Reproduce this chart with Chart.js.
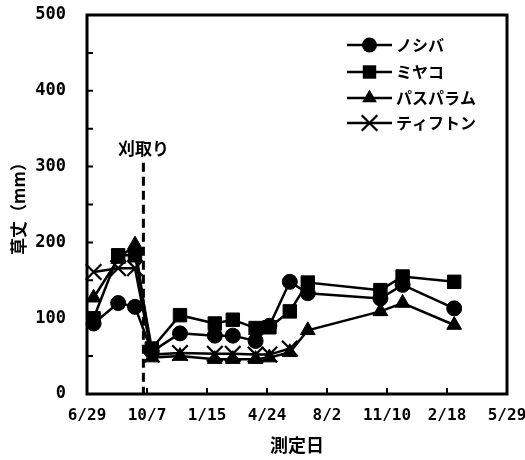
<!DOCTYPE html>
<html>
<head>
<meta charset="utf-8">
<script src="https://cdn.jsdelivr.net/npm/chart.js@4"></script>
<style>
  html, body { margin: 0; padding: 0; background: #fff; }
</style>
</head>
<body>
<canvas id="chart" width="525" height="460"></canvas>
<script>
// days counted from 6/29 of the first year
const measureDays = [11, 52, 80, 108, 155, 213, 243, 281, 304, 338, 368, 489, 526, 612];
const tickLabels = ['6/29', '10/7', '1/15', '4/24', '8/2', '11/10', '2/18', '5/29'];
const seriesNames = ['ノシバ', 'ミヤコ', 'パスパラム', 'ティフトン'];

const noshiba   = [93, 120, 115, 56, 80, 77, 77, 70, 90, 148, 133, 126, 144, 113];
const miyako    = [100, 183, 183, 60, 104, 93, 98, 87, 88, 109, 147, 137, 155, 148];
const paspalum  = [127, 178, 197, 48, 50, 46, 46, 46, 48, 55, 84, 109, 120, 91];
const tifton    = [161, 166, 166, 52, 54, 53, 53, 52, 52, 60];

const cutDay = 94;       // 刈取り
const cutLineTop = 305;
const cutLabel = '刈取り';

const jpFont = "'Noto Sans CJK JP', 'DejaVu Sans', sans-serif";
const numFont = "'DejaVu Sans Mono', 'Liberation Mono', monospace";

const toPoints = (vals) => vals.map((v, i) => ({ x: measureDays[i], y: v }));

const markers = [
  { style: 'circle', radius: 7.5, border: 1 },
  { style: 'rect', radius: 9.5, border: 1 },
  { style: 'triangle', radius: 8.5, border: 1 },
  { style: 'crossRot', radius: 11, border: 2.2 }
];

const allSeries = [noshiba, miyako, paspalum, tifton];

function drawMarker(ctx, m, x, y) {
  ctx.save();
  ctx.fillStyle = '#000';
  ctx.strokeStyle = '#000';
  ctx.lineWidth = m.border;
  ctx.beginPath();
  const r = m.radius;
  if (m.style === 'circle') {
    ctx.arc(x, y, r, 0, Math.PI * 2);
    ctx.fill();
  } else if (m.style === 'rect') {
    const s = r * Math.SQRT1_2;
    ctx.rect(x - s, y - s, 2 * s, 2 * s);
    ctx.fill();
  } else if (m.style === 'triangle') {
    ctx.moveTo(x, y - r);
    ctx.lineTo(x + r * Math.sin(Math.PI / 3), y + r / 2);
    ctx.lineTo(x - r * Math.sin(Math.PI / 3), y + r / 2);
    ctx.closePath();
    ctx.fill();
  } else {
    const d = r * Math.SQRT1_2;
    ctx.moveTo(x - d, y - d); ctx.lineTo(x + d, y + d);
    ctx.moveTo(x + d, y - d); ctx.lineTo(x - d, y + d);
    ctx.stroke();
  }
  ctx.restore();
}

const framePlugin = {
  id: 'frame',
  beforeDatasetsDraw(chart) {
    const { ctx, chartArea: a, scales: { x, y } } = chart;
    ctx.save();
    ctx.strokeStyle = '#000';
    ctx.lineWidth = 3;
    ctx.strokeRect(a.left, a.top, a.right - a.left, a.bottom - a.top);

    // inward tick marks
    ctx.lineWidth = 2;
    ctx.beginPath();
    y.ticks.forEach(t => {
      const py = y.getPixelForValue(t.value);
      ctx.moveTo(a.left, py); ctx.lineTo(a.left + 6, py);
    });
    x.ticks.forEach(t => {
      const px = x.getPixelForValue(t.value);
      ctx.moveTo(px, a.bottom); ctx.lineTo(px, a.bottom - 6);
    });
    ctx.stroke();

    // cutting date
    const cx = x.getPixelForValue(cutDay);
    ctx.lineWidth = 3;
    ctx.setLineDash([9, 5]);
    ctx.beginPath();
    ctx.moveTo(cx, y.getPixelForValue(cutLineTop));
    ctx.lineTo(cx, a.bottom);
    ctx.stroke();
    ctx.setLineDash([]);
    ctx.fillStyle = '#000';
    ctx.font = 'bold 17px ' + jpFont;
    ctx.textAlign = 'center';
    ctx.textBaseline = 'middle';
    ctx.fillText(cutLabel, cx, y.getPixelForValue(cutLineTop) - 14);
    ctx.restore();
  },
  afterDraw(chart) {
    const { ctx } = chart;
    ctx.save();
    const rowY = [45, 72, 98, 123];
    const x0 = 347, x1 = 392;
    chart.data.datasets.forEach((ds, i) => {
      const yy = rowY[i];
      ctx.strokeStyle = '#000';
      ctx.lineWidth = 2.5;
      ctx.beginPath();
      ctx.moveTo(x0, yy); ctx.lineTo(x1, yy);
      ctx.stroke();
      drawMarker(ctx, markers[i], (x0 + x1) / 2, yy);
      ctx.fillStyle = '#000';
      ctx.font = 'bold 16px ' + jpFont;
      ctx.textAlign = 'left';
      ctx.textBaseline = 'middle';
      ctx.fillText(ds.label, x1 + 4, yy);
    });
    ctx.restore();
  }
};

const noOverflow = (scale) => {
  scale.paddingTop = 0;
  scale.paddingBottom = 0;
  scale.paddingLeft = 0;
  scale.paddingRight = 0;
};

new Chart(document.getElementById('chart'), {
  type: 'line',
  data: {
    datasets: allSeries.map((vals, i) => ({
      label: seriesNames[i],
      data: toPoints(vals),
      borderColor: '#000',
      backgroundColor: '#000',
      borderWidth: 2.5,
      pointStyle: markers[i].style,
      pointRadius: markers[i].radius,
      pointBorderWidth: markers[i].border,
      pointBackgroundColor: '#000',
      pointBorderColor: '#000',
      tension: 0,
      clip: false
    }))
  },
  options: {
    responsive: false,
    animation: false,
    events: [],
    layout: { padding: { top: 15, right: 18, left: 0, bottom: 0 } },
    plugins: {
      legend: { display: false },
      tooltip: { enabled: false }
    },
    scales: {
      x: {
        type: 'linear',
        min: 0,
        max: 700,
        grid: { display: false, drawTicks: false },
        border: { display: false },
        ticks: {
          stepSize: 100,
          padding: 12,
          color: '#000',
          font: { family: numFont, size: 16, weight: 'bold' },
          maxRotation: 0,
          callback: (v) => tickLabels[Math.round(v / 100)]
        },
        title: {
          display: true,
          text: '測定日',
          color: '#000',
          font: { family: jpFont, size: 18, weight: 'bold' },
          padding: { top: 0, bottom: 4 }
        },
        afterFit: (scale) => { scale.height = 66; noOverflow(scale); }
      },
      y: {
        min: 0,
        max: 500,
        grid: { display: false, drawTicks: false },
        border: { display: false },
        ticks: {
          stepSize: 50,
          padding: 21,
          color: '#000',
          font: { family: numFont, size: 17, weight: 'bold' },
          callback: (v) => (v % 100 === 0 ? v : '')
        },
        title: {
          display: true,
          text: '草丈（mm）',
          color: '#000',
          font: { family: jpFont, size: 17, weight: 'bold' },
          padding: { top: 8, bottom: 0 }
        },
        afterFit: (scale) => { scale.width = 87; noOverflow(scale); }
      }
    }
  },
  plugins: [framePlugin]
});
</script>
</body>
</html>
